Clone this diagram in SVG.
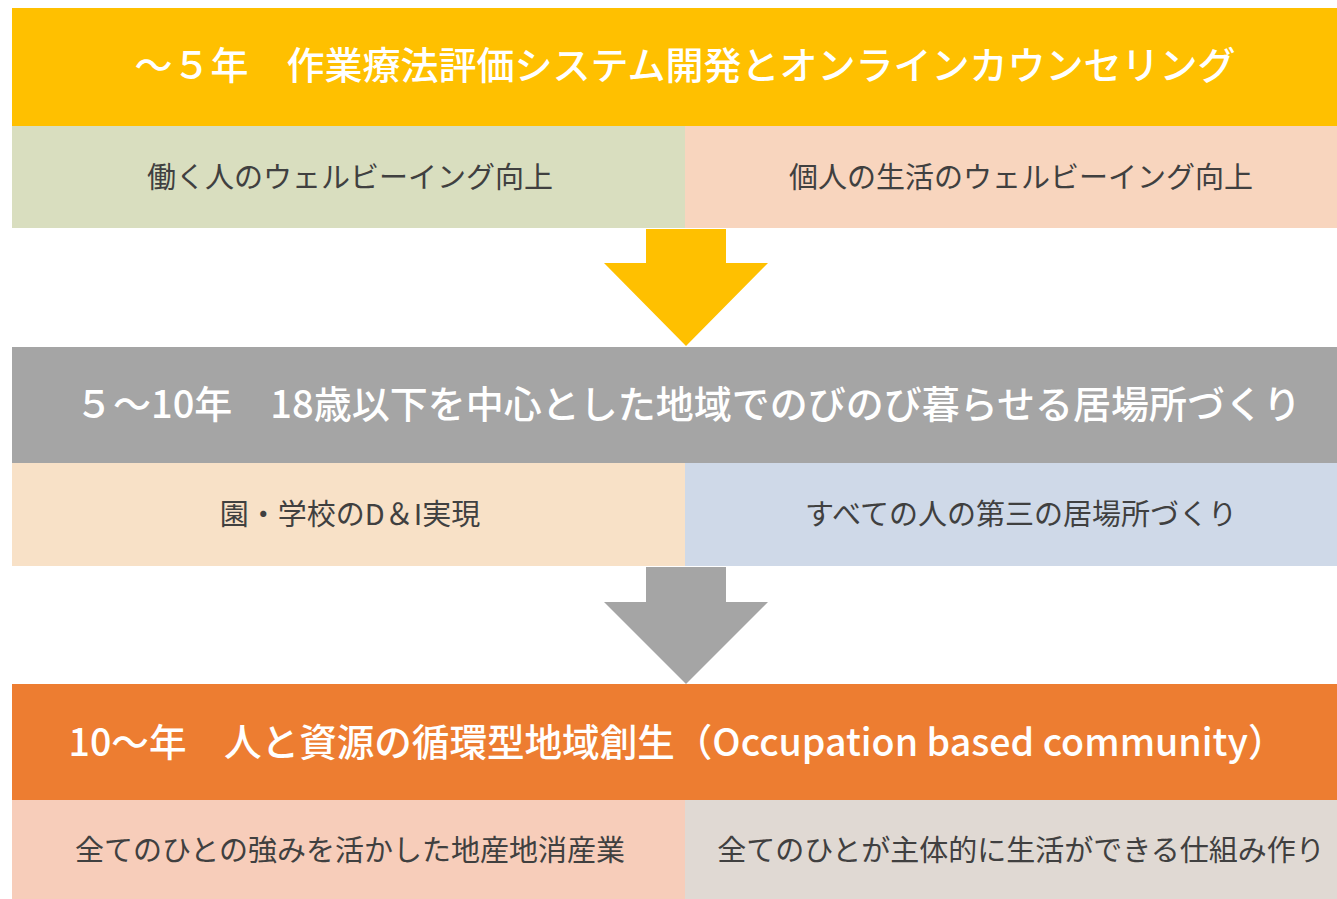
<svg xmlns="http://www.w3.org/2000/svg" width="1337" height="899" viewBox="0 0 1337 899">
<style>
.hd{font-family:"Noto Sans CJK JP","Noto Sans",sans-serif;font-size:38px;font-weight:500;fill:#FFFFFF;text-anchor:middle;dominant-baseline:central}
.sb{font-family:"Noto Sans CJK JP","Noto Sans",sans-serif;font-size:29px;font-weight:400;fill:#404040;text-anchor:middle;dominant-baseline:central}
</style>
<rect width="1337" height="899" fill="#FFFFFF"/>
<g id="connectors">
<polygon points="646,229 726,229 726,263 768,263 686,346 604,263 646,263" fill="#FFC000"/>
<polygon points="646,567 726,567 726,602 768,602 686,684 604,602 646,602" fill="#A5A5A5"/>
</g>
<g id="phase1">
<rect x="12" y="8" width="1325" height="118" fill="#FFC000"/>
<text class="hd" x="685" y="62">～５年　作業療法評価システム開発とオンラインカウンセリング</text>
</g>
<g id="phase1-left">
<rect x="12" y="126" width="673" height="102" fill="#D9DEBF"/>
<text class="sb" x="350" y="175">働く人のウェルビーイング向上</text>
</g>
<g id="phase1-right">
<rect x="685" y="126" width="652" height="102" fill="#F8D5BE"/>
<text class="sb" x="1021" y="175">個人の生活のウェルビーイング向上</text>
</g>
<g id="phase2">
<rect x="12" y="347" width="1325" height="116" fill="#A5A5A5"/>
<text class="hd" x="688" y="401">５～10年　18歳以下を中心とした地域でのびのび暮らせる居場所づくり</text>
</g>
<g id="phase2-left">
<rect x="12" y="463" width="673" height="103" fill="#F8E1C7"/>
<text class="sb" x="350" y="512">園・学校のD＆I実現</text>
</g>
<g id="phase2-right">
<rect x="685" y="463" width="652" height="103" fill="#CFD9E8"/>
<text class="sb" x="1021" y="512">すべての人の第三の居場所づくり</text>
</g>
<g id="phase3">
<rect x="12" y="684" width="1325" height="116" fill="#ED7D31"/>
<text class="hd" x="677" y="739" textLength="1217" lengthAdjust="spacingAndGlyphs">10～年　人と資源の循環型地域創生（Occupation based community）</text>
</g>
<g id="phase3-left">
<rect x="12" y="800" width="673" height="99" fill="#F7CDBA"/>
<text class="sb" x="350" y="848">全てのひとの強みを活かした地産地消産業</text>
</g>
<g id="phase3-right">
<rect x="685" y="800" width="652" height="99" fill="#E0D9D3"/>
<text class="sb" x="1021" y="848">全てのひとが主体的に生活ができる仕組み作り</text>
</g>
</svg>
